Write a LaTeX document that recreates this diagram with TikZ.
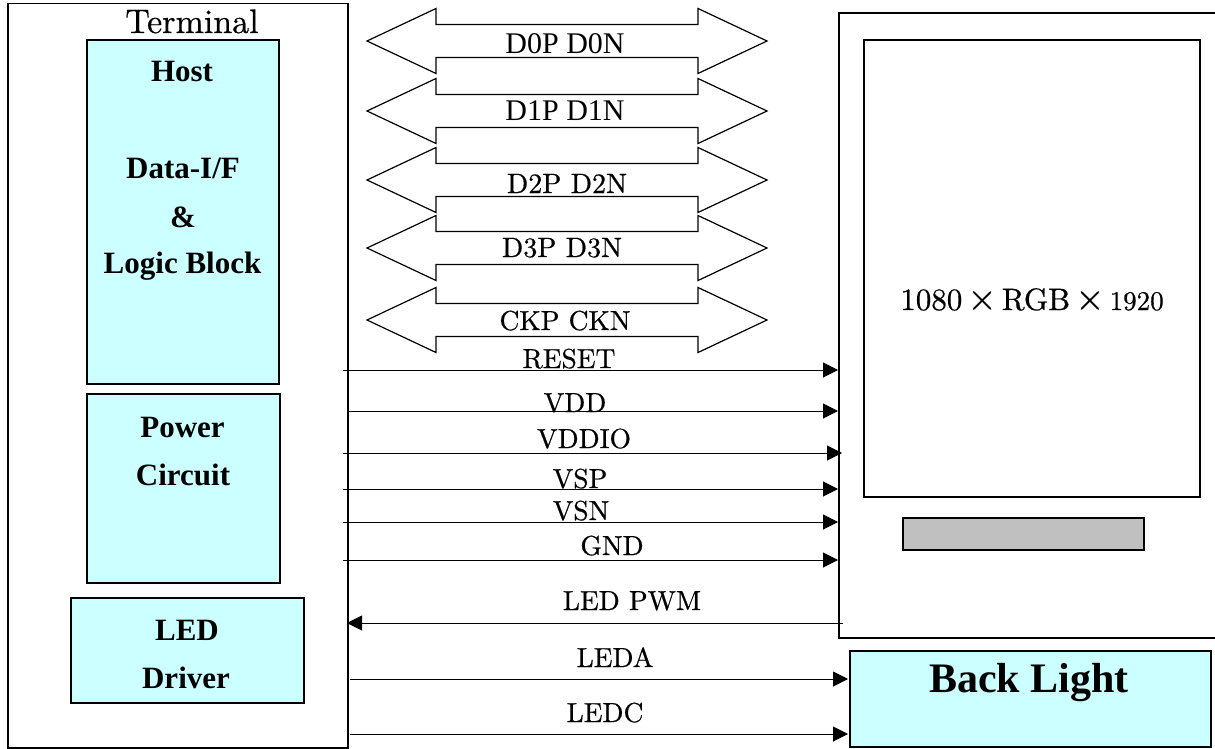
\documentclass[tikz,border=0pt]{standalone}
\usepackage{fontspec}
\setmainfont{Liberation Serif}
\newfontfamily\cmr[Extension=.otf, RawFeature={embolden=0.6}]{lmroman10-regular}
\usetikzlibrary{arrows.meta}
\definecolor{lcyan}{HTML}{CCFFFF}
\definecolor{bargray}{HTML}{C0C0C0}
\begin{document}
\begin{tikzpicture}[x=1pt,y=-1pt,
  blk/.style={draw, line width=2.2pt, fill=lcyan, inner sep=0pt, anchor=north west},
  frame/.style={draw, line width=1.6pt, inner sep=0pt, anchor=north west},
  bt/.style={font=\fontsize{31}{31}\selectfont\bfseries, anchor=base, inner sep=0pt},
  cl/.style={font=\cmr\fontsize{27.5}{28}\selectfont, anchor=base, inner sep=0pt},
  tl/.style={font=\fontsize{30}{30}\selectfont, anchor=base, inner sep=0pt},
  sig/.style={line width=1pt, -{Triangle[length=15pt,width=15pt]}},
  bus/.style={draw, line width=1.2pt, line join=miter},
]
\useasboundingbox (0,0) rectangle (1215,749);
\fill[white] (0,0) rectangle (1215,749);
\clip (0,0) rectangle (1215,749);

% Terminal side
\node[frame, line width=1.5pt, minimum width=340pt, minimum height=744pt] (term) at (7,3) {};
\node[cl, font=\cmr\fontsize{34}{34}\selectfont] (termlab) at (192,33) {Terminal};
\node[blk, minimum width=192pt, minimum height=344pt] (host) at (86,39) {};
\node[blk, minimum width=193pt, minimum height=189pt] (power) at (86,393) {};
\node[blk, minimum width=233pt, minimum height=105pt] (led) at (70,597) {};

\node[bt] (t1) at (182,82) {Host};
\node[bt] (t2) at (183,178) {Data-I/F};
\node[bt] (t3) at (183,227) {\&};
\node[bt] (t4) at (182.5,273) {Logic Block};
\node[bt] (t5) at (182.5,437) {Power};
\node[bt] (t6) at (183,485) {Circuit};
\node[bt] (t7) at (187,640) {LED};
\node[bt] (t8) at (186,688) {Driver};

% Display side
\node[frame, line width=1.8pt, minimum width=400pt, minimum height=625pt] (disp) at (838,12) {};
\node[frame, line width=1.8pt, minimum width=336pt, minimum height=457pt] (scr) at (863,39) {};
\node[frame, line width=1.8pt, fill=bargray, minimum width=241pt, minimum height=32pt] (bar) at (902,517) {};
\node[anchor=base, inner sep=0pt, font=\cmr\fontsize{31}{31}\selectfont] (resol) at (1032,310)
  {1080\kern5pt{\fontsize{38}{38}\selectfont×}\kern5pt RGB\kern5pt{\fontsize{38}{38}\selectfont×}\kern5pt{\fontsize{27}{27}\selectfont 1920}};
\node[blk, minimum width=361pt, minimum height=96pt] (bl) at (849,650) {};
\node[bt, font=\fontsize{42}{42}\selectfont\bfseries] (bltext) at (1029,692) {Back Light};

% Bidirectional buses
\foreach \yy in {41,111,180,248,320} {
  \draw[bus] (367,\yy) -- (436,\yy-32.5) -- (436,\yy-16.5) -- (698,\yy-16.5) -- (698,\yy-32.5)
    -- (767,\yy) -- (698,\yy+32.5) -- (698,\yy+16.5) -- (436,\yy+16.5) -- (436,\yy+32.5) -- cycle;
}
\node[tl] (d0) at (565,54) {D0P D0N};
\node[tl] (d1) at (565,121) {D1P D1N};
\node[cl, font=\cmr\fontsize{28}{28}\selectfont] (d2) at (567,193) {D2P D2N};
\node[cl, font=\cmr\fontsize{28}{28}\selectfont] (d3) at (562,257) {D3P D3N};
\node[cl] (ck) at (565,330) {CKP CKN};

% Signal lines
\coordinate (resetA) at (343,370); \coordinate (resetB) at (838,370);
\coordinate (vddA) at (347,411);   \coordinate (vddB) at (838,411);
\coordinate (vddioA) at (343,453); \coordinate (vddioB) at (842,453);
\coordinate (vspA) at (343,489);   \coordinate (vspB) at (838,489);
\coordinate (vsnA) at (343,522);   \coordinate (vsnB) at (838,522);
\coordinate (gndA) at (343,560);   \coordinate (gndB) at (838,560);
\coordinate (pwmA) at (843,623);   \coordinate (pwmB) at (347,623);
\coordinate (ledaA) at (350,679);  \coordinate (ledaB) at (848,679);
\coordinate (ledcA) at (350,734);  \coordinate (ledcB) at (848,734);

\draw[sig] (resetA) -- (resetB);
\draw[sig] (vddA) -- (vddB);
\draw[sig] (vddioA) -- (vddioB);
\draw[sig] (vspA) -- (vspB);
\draw[sig] (vsnA) -- (vsnB);
\draw[sig] (gndA) -- (gndB);
\draw[sig] (pwmA) -- (pwmB);
\draw[sig] (ledaA) -- (ledaB);
\draw[sig] (ledcA) -- (ledcB);

\node[cl] (lreset) at (569,368) {RESET};
\node[cl] (lvdd) at (575,412) {VDD};
\node[cl] (lvddio) at (584,448) {VDDIO};
\node[cl] (lvsp) at (580,488) {VSP};
\node[cl] (lvsn) at (581,520) {VSN};
\node[cl] (lgnd) at (612,555) {GND};
\node[cl] (lpwm) at (632,610) {LED PWM};
\node[cl] (lleda) at (615,667) {LEDA};
\node[cl] (lledc) at (605,722) {LEDC};
\end{tikzpicture}
\end{document}
